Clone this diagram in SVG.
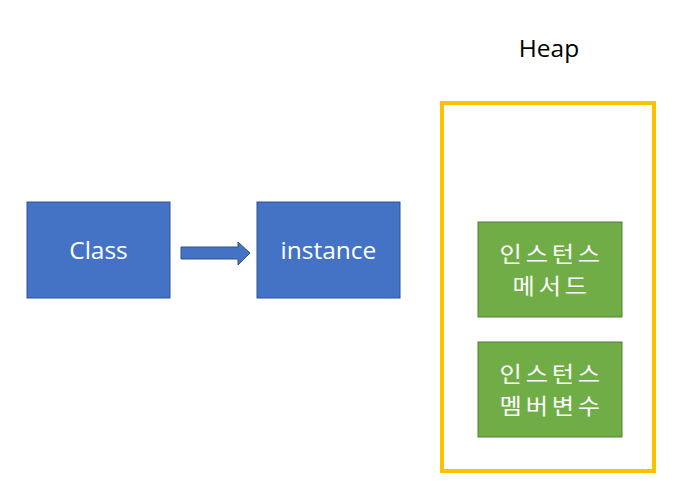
<svg xmlns="http://www.w3.org/2000/svg" width="677" height="486" viewBox="0 0 677 486">
<style>
.blue{fill:#4472c4;stroke:#2f528f;stroke-width:1}
.green{fill:#70ad47;stroke:#507e32;stroke-width:1}
.t{font-family:"Open Sans","Noto Sans CJK KR",sans-serif;font-size:24.5px;fill:#ffffff;text-anchor:middle}
.k{font-family:"Noto Sans CJK KR",sans-serif;font-size:22px;letter-spacing:3.5px;fill:#ffffff;text-anchor:middle}
.h{font-family:"Open Sans",sans-serif;font-size:24.5px;fill:#000000;text-anchor:middle}
</style>
<rect width="677" height="486" fill="#ffffff"/>
<g id="heap">
<rect x="442" y="103" width="212" height="368" fill="none" stroke="#ffc000" stroke-width="4"/>
<text class="h" x="549" y="57">Heap</text>
</g>
<g id="class">
<rect class="blue" x="27" y="202" width="143" height="96"/>
<text class="t" x="98.5" y="259">Class</text>
</g>
<g id="instance">
<rect class="blue" x="257" y="202" width="143" height="96"/>
<text class="t" x="328.5" y="259">instance</text>
</g>
<g id="method">
<rect class="green" x="478" y="222" width="144" height="95"/>
<text class="k" transform="translate(550,0) scale(1.1,1)"><tspan x="1.6" y="262.5">인스턴스</tspan><tspan x="1.6" y="294.5">메서드</tspan></text>
</g>
<g id="member">
<rect class="green" x="478" y="342" width="144" height="95"/>
<text class="k" transform="translate(550,0) scale(1.1,1)"><tspan x="1.6" y="382.5">인스턴스</tspan><tspan x="1.6" y="414.5">멤버변수</tspan></text>
</g>
<g id="connectors">
<polygon points="181,247 238,247 238,242 250,253 238,265 238,259 181,259" fill="#4472c4" stroke="#2f528f" stroke-width="1"/>
</g>
</svg>
